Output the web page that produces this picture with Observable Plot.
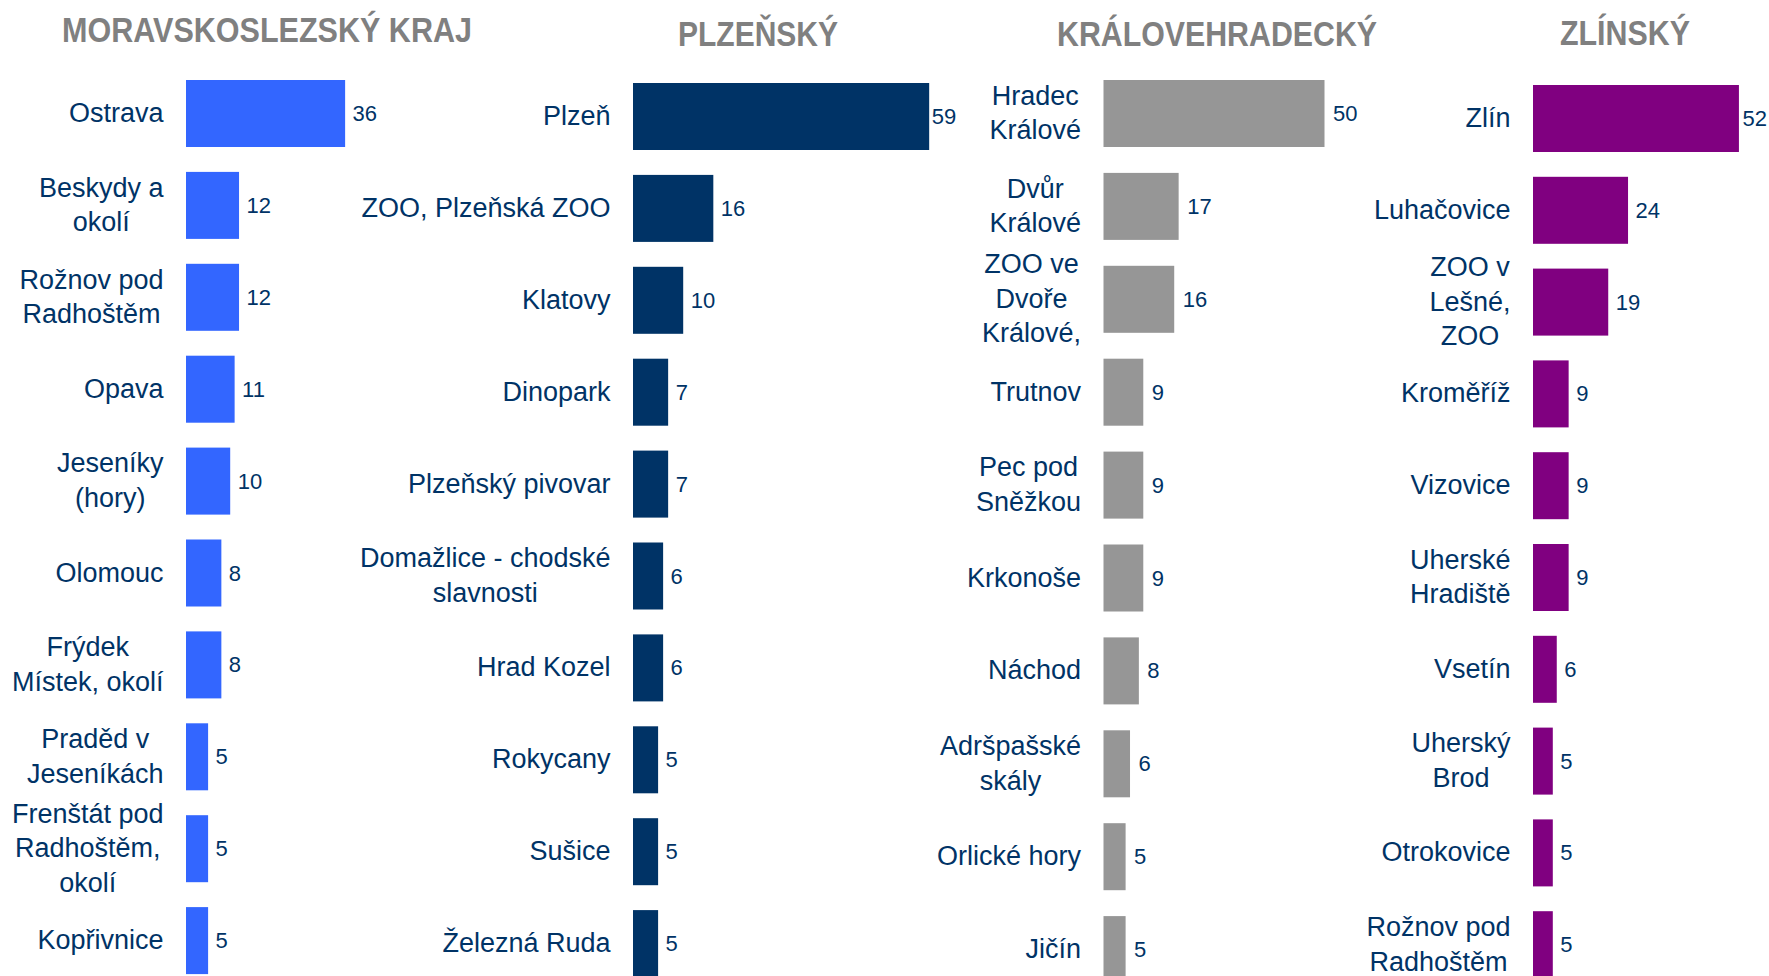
<!DOCTYPE html>
<html>
<head>
<meta charset="utf-8">
<script src="https://cdn.jsdelivr.net/npm/d3@7"></script>
<script src="https://cdn.jsdelivr.net/npm/@observablehq/plot@0.6"></script>
<style>
  html, body { margin: 0; padding: 0; background: #ffffff; }
  #chart { position: relative; width: 1769px; height: 976px; overflow: hidden; background: #ffffff; }
  #chart svg { position: absolute; left: 0; top: 0; max-width: none; }
</style>
</head>
<body>
<div id="chart"></div>
<script>
// ---------- DATA ----------
const regions = ["MORAVSKOSLEZSKÝ KRAJ", "PLZEŇSKÝ", "KRÁLOVEHRADECKÝ", "ZLÍNSKÝ"];

const mskPlaces = ["Ostrava", "Beskydy a\nokolí", "Rožnov pod\nRadhoštěm", "Opava", "Jeseníky\n(hory)", "Olomouc", "Frýdek\nMístek, okolí", "Praděd v\nJeseníkách", "Frenštát pod\nRadhoštěm,\nokolí", "Kopřivnice"];
const mskValues = [36, 12, 12, 11, 10, 8, 8, 5, 5, 5];

const plzPlaces = ["Plzeň", "ZOO, Plzeňská ZOO", "Klatovy", "Dinopark", "Plzeňský pivovar", "Domažlice - chodské\nslavnosti", "Hrad Kozel", "Rokycany", "Sušice", "Železná Ruda"];
const plzValues = [59, 16, 10, 7, 7, 6, 6, 5, 5, 5];

const hkPlaces = ["Hradec\nKrálové", "Dvůr\nKrálové", "ZOO ve\nDvoře\nKrálové,", "Trutnov", "Pec pod\nSněžkou", "Krkonoše", "Náchod", "Adršpašské\nskály", "Orlické hory", "Jičín"];
const hkValues = [50, 17, 16, 9, 9, 9, 8, 6, 5, 5];

const zlPlaces = ["Zlín", "Luhačovice", "ZOO v\nLešné,\nZOO", "Kroměříž", "Vizovice", "Uherské\nHradiště", "Vsetín", "Uherský\nBrod", "Otrokovice", "Rožnov pod\nRadhoštěm"];
const zlValues = [52, 24, 19, 9, 9, 9, 6, 5, 5, 5];

// ---------- LAYOUT / STYLE ----------
const W = 1769, H = 976;
const labelColor = "#003366";
const titleColor = "#808080";
const fontFamily = '"Liberation Sans", Arial, Helvetica, sans-serif';
const labelSize = 27, valueSize = 22, labelGap = 23, lineHeight = 1.28, labelDy = -3;

const panels = [
  {places: mskPlaces, values: mskValues, color: "#3366FF", x0: 186,    k: 4.42, top: 80, step: 91.9, bar: 67, gap: 7, maxGap: 7, titleX: 267,  titleY: 42, titleW: 410},
  {places: plzPlaces, values: plzValues, color: "#003366", x0: 633,    k: 5.02, top: 83, step: 91.9, bar: 67, gap: 7, maxGap: 2, titleX: 758,  titleY: 46, titleW: 160},
  {places: hkPlaces,  values: hkValues,  color: "#969696", x0: 1103.5, k: 4.42, top: 80, step: 92.9, bar: 67, gap: 8, maxGap: 8, titleX: 1217, titleY: 46, titleW: 320},
  {places: zlPlaces,  values: zlValues,  color: "#800080", x0: 1533,   k: 3.96, top: 85, step: 91.8, bar: 67, gap: 7, maxGap: 3, titleX: 1625, titleY: 45, titleW: 130}
];

const chart = document.getElementById("chart");
const ctx = document.createElement("canvas").getContext("2d");
ctx.font = `${labelSize}px ${fontFamily}`;
const blockWidth = s => d3.max(s.split("\n"), line => ctx.measureText(line).width);

panels.forEach((P, pi) => {
  const data = P.places.map((name, i) => ({name, value: P.values[i]}));
  const maxV = d3.max(P.values);
  const n = data.length;
  const marks = [
    Plot.barX(data, {x: "value", y: "name", fill: P.color}),
    Plot.text(data.filter(d => d.value < maxV), {
      x: "value", y: "name", text: d => String(d.value), textAnchor: "start",
      dx: P.gap, fontSize: valueSize, fill: labelColor, fontFamily
    }),
    Plot.text(data.filter(d => d.value === maxV), {
      x: "value", y: "name", text: d => String(d.value), textAnchor: "start",
      dx: P.maxGap, fontSize: valueSize, fill: labelColor, fontFamily
    })
  ];
  // category labels: right-aligned block, lines centred within the block
  data.forEach(d => {
    const w = blockWidth(d.name);
    marks.push(Plot.text([d], {
      x: () => 0, y: "name", text: "name", textAnchor: "middle",
      dx: -(labelGap + w / 2), dy: labelDy, fontSize: labelSize, lineHeight,
      fill: labelColor, fontFamily
    }));
  });

  const svg = Plot.plot({
    width: W, height: H, margin: 0,
    style: {background: "transparent", fontFamily, overflow: "visible"},
    x: {domain: [0, maxV], range: [P.x0, P.x0 + P.k * maxV], axis: null},
    y: {type: "band", domain: P.places, range: [P.top, P.top + (n - 1) * P.step + P.bar],
        paddingInner: (P.step - P.bar) / P.step, paddingOuter: 0, round: false, axis: null},
    marks
  });
  svg.style.position = "absolute";
  svg.style.left = "0px";
  svg.style.top = "0px";
  chart.appendChild(svg);
});

// titles above each panel
const tsvg = d3.select(chart).append("svg")
  .attr("width", W).attr("height", 70)
  .style("position", "absolute").style("left", "0px").style("top", "0px");
panels.forEach((P, i) => {
  tsvg.append("text")
    .attr("x", P.titleX).attr("y", P.titleY)
    .attr("text-anchor", "middle")
    .attr("textLength", P.titleW)
    .attr("lengthAdjust", "spacingAndGlyphs")
    .style("font-family", '"Liberation Sans Narrow", "Arial Narrow", "Liberation Sans", Arial, sans-serif')
    .style("font-weight", "bold")
    .style("font-size", "35px")
    .style("fill", titleColor)
    .text(regions[i]);
});
</script>
</body>
</html>
